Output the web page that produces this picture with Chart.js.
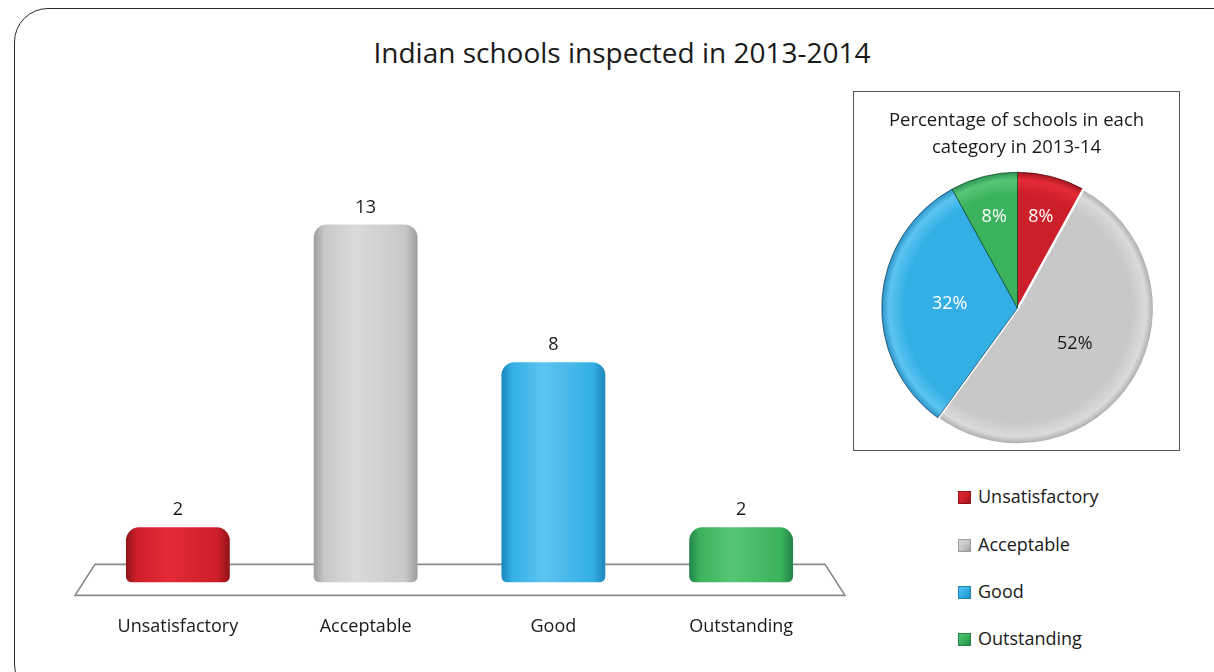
<!DOCTYPE html>
<html>
<head>
<meta charset="utf-8">
<script src="https://cdn.jsdelivr.net/npm/chart.js@4.4.1/dist/chart.umd.min.js"></script>
<style>
  html, body { margin: 0; padding: 0; background: #fff; }
  body { width: 1214px; height: 672px; position: relative; overflow: hidden; font-family: "Open Sans", "Noto Sans", sans-serif; color: #1a1a1a; }
  #frame { position: absolute; left: 14px; top: 8px; width: 1240px; height: 690px; border: 1.5px solid #2a2a2a; border-radius: 34px; box-sizing: border-box; }
  #title { position: absolute; left: 0; width: 1244px; top: 33px; text-align: center; font-size: 28px; letter-spacing: 0px; }
  #barWrap { position: absolute; left: 0; top: 0; width: 850px; height: 672px; }
  #pieBox { position: absolute; left: 853px; top: 91px; width: 327px; height: 360px; border: 1px solid #555; box-sizing: border-box; background: #fff; }
  #pieTitle { position: absolute; left: 0; right: 0; top: 13px; text-align: center; font-size: 18.5px; line-height: 27px; }
  #pieWrap { position: absolute; left: 0; top: 0; width: 325px; height: 358px; }
  #legend { position: absolute; left: 958px; top: 483px; }
  .li { position: absolute; left: 0; white-space: nowrap; font-size: 18px; height: 26px; line-height: 26px; }
  .sw { display: inline-block; width: 13px; height: 13px; margin-right: 7px; vertical-align: -1px; }
</style>
</head>
<body>
<div id="frame"></div>
<div id="title">Indian schools inspected in 2013-2014</div>
<div id="barWrap"><canvas id="bar"></canvas></div>
<div id="pieBox">
  <div id="pieWrap"><canvas id="pie"></canvas></div>
  <div id="pieTitle">Percentage of schools in each<br>category in 2013-14</div>
</div>
<div id="legend"></div>
<script>
// ---- data ----
const categories = ["Unsatisfactory", "Acceptable", "Good", "Outstanding"];
const schoolCounts = [2, 13, 8, 2];
const baseColors = ["#cc1f2a", "#c8c8c8", "#33afe5", "#3bb25c"];
const lightColors = ["#e52a36", "#dadada", "#5cc4f0", "#56c676"];
const darkColors = ["#921219", "#9c9c9c", "#1d86ba", "#22844a"];
const pieTitleLines = ["Percentage of schools in each", "category in 2013-14"];
const chartTitle = "Indian schools inspected in 2013-2014";

const total = schoolCounts.reduce((a, b) => a + b, 0);
const percents = schoolCounts.map(v => Math.round(v / total * 100));

// ---- bar chart ----
function barGradient(ctx) {
  const chart = ctx.chart;
  const i = ctx.dataIndex;
  const xs = chart.scales.x;
  if (!xs || !chart.chartArea) return baseColors[i];
  const cx = xs.getPixelForValue(i);
  const w = (chart.chartArea.right - chart.chartArea.left) / categories.length * 0.553;
  const g = chart.ctx.createLinearGradient(cx - w / 2, 0, cx + w / 2, 0);
  g.addColorStop(0, darkColors[i]);
  g.addColorStop(0.1, baseColors[i]);
  g.addColorStop(0.4, lightColors[i]);
  g.addColorStop(0.88, baseColors[i]);
  g.addColorStop(1, darkColors[i]);
  return g;
}

const floorPlugin = {
  id: "floor",
  beforeDatasetsDraw(chart) {
    const { ctx, chartArea: a } = chart;
    const y0 = chart.scales.y.getPixelForValue(0);
    ctx.save();
    ctx.strokeStyle = "#8a8a8a";
    ctx.lineWidth = 1.6;
    ctx.beginPath();
    ctx.moveTo(a.left + 11, y0 - 18);
    ctx.lineTo(a.right - 10, y0 - 18);
    ctx.lineTo(a.right + 10, y0 + 13);
    ctx.lineTo(a.left - 9, y0 + 13);
    ctx.closePath();
    ctx.stroke();
    ctx.restore();
  }
};

const barLabelPlugin = {
  id: "barLabels",
  afterDatasetsDraw(chart) {
    const { ctx } = chart;
    const meta = chart.getDatasetMeta(0);
    ctx.save();
    ctx.fillStyle = "#1a1a1a";
    ctx.font = '18px "Open Sans", "Noto Sans", sans-serif';
    ctx.textAlign = "center";
    ctx.textBaseline = "bottom";
    meta.data.forEach((bar, i) => {
      ctx.fillText(String(schoolCounts[i]), bar.x, bar.y - 8);
    });
    ctx.restore();
  }
};

new Chart(document.getElementById("bar"), {
  type: "bar",
  data: {
    labels: categories,
    datasets: [{
      data: schoolCounts,
      backgroundColor: barGradient,
      borderWidth: 0,
      borderSkipped: false,
      borderRadius: { topLeft: 13, topRight: 13, bottomLeft: 6, bottomRight: 6 },
      barPercentage: 0.553,
      categoryPercentage: 1.0
    }]
  },
  options: {
    responsive: true,
    maintainAspectRatio: false,
    animation: false,
    layout: { padding: { left: 84, right: 15, top: 169.5, bottom: 0 } },
    plugins: { legend: { display: false }, tooltip: { enabled: false }, title: { display: false } },
    scales: {
      x: {
        grid: { display: false, drawTicks: false },
        border: { display: false },
        ticks: { color: "#1a1a1a", padding: 34, font: { size: 18, family: '"Open Sans", "Noto Sans", sans-serif' } }
      },
      y: { display: false, min: 0, max: 15 }
    }
  },
  plugins: [floorPlugin, barLabelPlugin]
});

// ---- pie chart ----
function pieGradient(ctx) {
  const chart = ctx.chart;
  const a = chart.chartArea;
  const i = ctx.dataIndex;
  if (!a) return baseColors[i];
  const cx = (a.left + a.right) / 2, cy = (a.top + a.bottom) / 2;
  const r = Math.min(a.right - a.left, a.bottom - a.top) / 2;
  const g = chart.ctx.createRadialGradient(cx, cy, 0, cx, cy, r);
  g.addColorStop(0, baseColors[i]);
  g.addColorStop(0.82, baseColors[i]);
  g.addColorStop(0.93, lightColors[i]);
  g.addColorStop(1, darkColors[i]);
  return g;
}

const pieLabelPlugin = {
  id: "pieLabels",
  afterDatasetsDraw(chart) {
    const { ctx } = chart;
    const meta = chart.getDatasetMeta(0);
    ctx.save();
    ctx.font = '18px "Open Sans", "Noto Sans", sans-serif';
    ctx.textAlign = "center";
    ctx.textBaseline = "middle";
    meta.data.forEach((arc, i) => {
      const mid = (arc.startAngle + arc.endAngle) / 2;
      const f = percents[i] < 15 ? 0.69 : 0.5;
      const x = arc.x + Math.cos(mid) * arc.outerRadius * f;
      const y = arc.y + Math.sin(mid) * arc.outerRadius * f;
      ctx.fillStyle = i === 1 ? "#1a1a1a" : "#ffffff";
      ctx.fillText(percents[i] + "%", x, y);
    });
    ctx.restore();
  }
};

new Chart(document.getElementById("pie"), {
  type: "pie",
  data: {
    labels: categories,
    datasets: [{
      data: schoolCounts,
      backgroundColor: pieGradient,
      borderColor: ["rgba(60,0,0,0.6)", "#ffffff", "rgba(0,40,70,0.6)", "rgba(0,50,20,0.6)"],
      borderWidth: [1, 2.5, 1, 1],
      offset: [0, 2, 0, 0]
    }]
  },
  options: {
    responsive: true,
    maintainAspectRatio: false,
    animation: false,
    rotation: 0,
    layout: { padding: { top: 78, bottom: 4, left: 2, right: 0 } },
    plugins: { legend: { display: false }, tooltip: { enabled: false } }
  },
  plugins: [pieLabelPlugin]
});

// ---- legend ----
const legend = document.getElementById("legend");
const legendYs = [0, 48, 95, 142];
categories.forEach((c, i) => {
  const d = document.createElement("div");
  d.className = "li";
  d.style.top = legendYs[i] + "px";
  const s = document.createElement("span");
  s.className = "sw";
  s.style.background = `linear-gradient(135deg, ${lightColors[i]} 0%, ${baseColors[i]} 50%, ${darkColors[i]} 100%)`;
  s.style.boxShadow = `inset 0 0 0 1px ${darkColors[i]}`;
  d.appendChild(s);
  d.appendChild(document.createTextNode(c));
  legend.appendChild(d);
});
</script>
</body>
</html>
